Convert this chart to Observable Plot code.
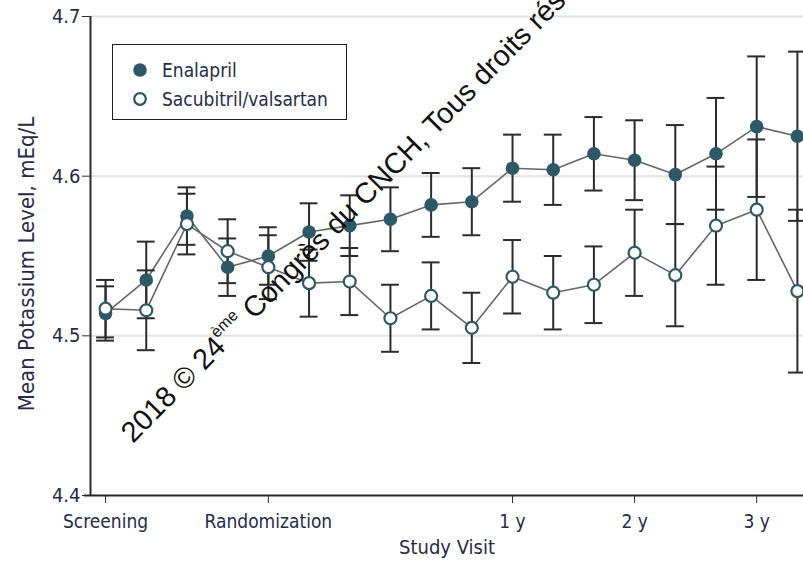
<!DOCTYPE html>
<html>
<head>
<meta charset="utf-8">
<script src="https://cdn.jsdelivr.net/npm/d3@7"></script>
<script src="https://cdn.jsdelivr.net/npm/@observablehq/plot@0.6"></script>
<style>
  body { margin: 0; background: #fff; }
  #chart { position: relative; width: 803px; height: 569px; overflow: hidden; }
  #chart svg.main { display: block; }
  .font { font-family: "DejaVu Sans Condensed", "DejaVu Sans", sans-serif; font-stretch: condensed; }
  .legend {
    position: absolute; left: 112px; top: 44px; width: 233px; height: 74px;
    border: 1.5px solid #1e1e1e; background: #fff; color: #262b48; font-size: 19px;
  }
  .legend .row { position: absolute; left: 0; height: 24px; display: flex; align-items: center; }
  .legend svg { margin-left: 19px; margin-right: 14px; }
  .stamp { position: absolute; left: 0; top: 0; pointer-events: none; }
</style>
</head>
<body>
<div id="chart"></div>
<script>
// Visits: screening, run-in, randomization and follow-up visits
const visit = [0, 1, 2, 3, 4, 5, 6, 7, 8, 9, 10, 11, 12, 13, 14, 15, 16, 17];

// Tick positions and labels along the study visit axis
const tickVisits = [0, 4, 10, 13, 16];
const tickLabels = ["Screening", "Randomization", "1 y", "2 y", "3 y"];

// Mean potassium (mEq/L) and half-width of the error bars
const enalaprilMean = [4.514, 4.535, 4.575, 4.543, 4.550, 4.565, 4.569, 4.573, 4.582, 4.584, 4.605, 4.604, 4.614, 4.610, 4.601, 4.614, 4.631, 4.625];
const enalaprilErr  = [0.017, 0.024, 0.018, 0.018, 0.018, 0.018, 0.019, 0.020, 0.020, 0.021, 0.021, 0.022, 0.023, 0.025, 0.031, 0.035, 0.044, 0.053];
const sacubitrilMean = [4.517, 4.516, 4.570, 4.553, 4.543, 4.533, 4.534, 4.511, 4.525, 4.505, 4.537, 4.527, 4.532, 4.552, 4.538, 4.569, 4.579, 4.528];
const sacubitrilErr  = [0.018, 0.025, 0.019, 0.020, 0.020, 0.021, 0.021, 0.021, 0.021, 0.022, 0.023, 0.023, 0.024, 0.027, 0.032, 0.037, 0.044, 0.051];

const yTicks = [4.4, 4.5, 4.6, 4.7];
const seriesNames = ["Enalapril", "Sacubitril/valsartan"];

const toRows = (means, errs) => visit.map((v, i) => ({
  visit: v, mean: means[i], lo: means[i] - errs[i], hi: means[i] + errs[i]
}));
const enal = toRows(enalaprilMean, enalaprilErr);
const sac = toRows(sacubitrilMean, sacubitrilErr);
const all = enal.concat(sac);

const teal = "#2e5866";
const ink = "#262b48";
const axisStroke = "#2a2a2a";
const xDomain = [-0.37, 17.15];
const yDomain = [4.4, 4.7];
const cap = 0.22; // half-width of error-bar caps, in visit units

const fontFamily = '"DejaVu Sans Condensed", "DejaVu Sans", sans-serif';

const chart = Plot.plot({
  width: 803,
  height: 569,
  marginLeft: 90,
  marginRight: 0,
  marginTop: 16,
  marginBottom: 74,
  style: { fontFamily, fontSize: "19px", color: ink, background: "#fff", fontStretch: "condensed" },
  x: { domain: xDomain },
  y: { domain: yDomain },
  marks: [
    Plot.ruleY(yTicks.slice(1), { stroke: "#e2e2e2", strokeWidth: 2 }),
    Plot.line(sac, { x: "visit", y: "mean", stroke: "#666", strokeWidth: 1.6 }),
    Plot.line(enal, { x: "visit", y: "mean", stroke: "#666", strokeWidth: 1.6 }),
    Plot.ruleX(all, { x: "visit", y1: "lo", y2: "hi", stroke: "#2b2b2b", strokeWidth: 2 }),
    Plot.ruleY(all, { y: "lo", x1: d => d.visit - cap, x2: d => d.visit + cap, stroke: "#2b2b2b", strokeWidth: 2 }),
    Plot.ruleY(all, { y: "hi", x1: d => d.visit - cap, x2: d => d.visit + cap, stroke: "#2b2b2b", strokeWidth: 2 }),
    Plot.dot(enal, { x: "visit", y: "mean", r: 6.8, fill: teal }),
    Plot.dot(sac, { x: "visit", y: "mean", r: 6, fill: "#fff", stroke: teal, strokeWidth: 2.2 }),
    Plot.ruleY([yDomain[0]], { stroke: axisStroke, strokeWidth: 2, insetLeft: -6 }),
    Plot.ruleX([xDomain[0]], { y1: yDomain[0], y2: yDomain[1], stroke: axisStroke, strokeWidth: 2 }),
    Plot.axisY({
      ticks: yTicks, tickFormat: d3.format(".1f"), tickSize: 8, tickPadding: 2,
      stroke: axisStroke, fill: ink, label: null, fontSize: 20
    }),
    Plot.axisX({
      ticks: tickVisits, tickFormat: d => tickLabels[tickVisits.indexOf(d)],
      tickSize: 8, tickPadding: 11, stroke: axisStroke, fill: ink, label: null
    }),
    Plot.text(["Study Visit"], { frameAnchor: "bottom", dy: 58, fill: ink, fontSize: 20 }),
    Plot.text(["Mean Potassium Level, mEq/L"], {
      frameAnchor: "left", textAnchor: "middle", dx: -64, dy: 8, rotate: -90, fill: ink, fontSize: 22
    })
  ]
});
chart.classList.add("main");

const root = document.getElementById("chart");
root.appendChild(chart);

// Legend
const legend = document.createElement("div");
legend.className = "legend font";
const rowTops = [13, 42];
seriesNames.forEach((name, i) => {
  const row = document.createElement("div");
  row.className = "row";
  row.style.top = rowTops[i] + "px";
  const filled = i === 0;
  row.innerHTML =
    `<svg width="16" height="16" viewBox="-8 -8 16 16">` +
    (filled
      ? `<circle r="6.8" fill="${teal}"></circle>`
      : `<circle r="5.8" fill="#fff" stroke="${teal}" stroke-width="2.2"></circle>`) +
    `</svg><span>${name}</span>`;
  legend.appendChild(row);
});
root.appendChild(legend);

// Copyright stamp across the plot
const ns = "http://www.w3.org/2000/svg";
const stamp = document.createElementNS(ns, "svg");
stamp.setAttribute("class", "stamp");
stamp.setAttribute("width", 803);
stamp.setAttribute("height", 569);
const t = document.createElementNS(ns, "text");
t.setAttribute("transform", "translate(133,444) rotate(-45.5)");
t.setAttribute("font-family", "'Liberation Sans', Arial, sans-serif");
t.setAttribute("font-size", "29");
t.setAttribute("fill", "#111");
t.innerHTML = '2018 © 24<tspan font-size="16" dy="-14">ème</tspan><tspan dy="14"> Congrès du CNCH, Tous droits réservés</tspan>';
stamp.appendChild(t);
root.appendChild(stamp);
</script>
</body>
</html>
